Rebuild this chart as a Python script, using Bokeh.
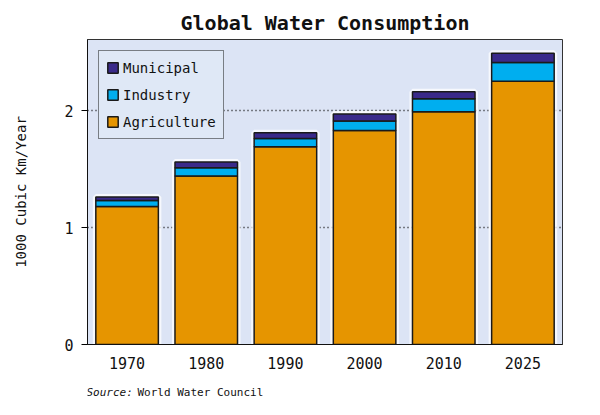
from bokeh.plotting import figure
from bokeh.layouts import column
from bokeh.models import FactorRange, Range1d, Legend, LegendItem, ColumnDataSource
from bokeh.embed import file_html
from bokeh.resources import INLINE
from bokeh.core.properties import value

years = ["1970", "1980", "1990", "2000", "2010", "2025"]
agriculture = [1.18, 1.44, 1.69, 1.83, 1.99, 2.25]
industry = [0.05, 0.07, 0.07, 0.08, 0.11, 0.16]
municipal = [0.03, 0.05, 0.05, 0.06, 0.06, 0.08]
y_ticks = [0, 1, 2]
source_prefix = "Source:"
source_name = "World Water Council"

totals = [a + i + m for a, i, m in zip(agriculture, industry, municipal)]
src = ColumnDataSource(dict(years=years, Agriculture=agriculture, Industry=industry,
                            Municipal=municipal, total=totals))

FONT = "DejaVu Sans Mono"
INK = "#111111"

p = figure(width=600, height=375, x_range=FactorRange(*years), y_range=Range1d(0, 2.607),
           output_backend="svg", toolbar_location=None,
           min_border_left=87, min_border_right=38, min_border_top=39, min_border_bottom=31)
p.background_fill_color = "#dce4f5"
p.border_fill_color = "white"
p.outline_line_color = "#333333"
p.outline_line_width = 1

p.title.text = "Global Water Consumption"
p.title.align = "center"
p.title.text_font = FONT
p.title.text_font_size = "20px"
p.title.text_font_style = "bold"
p.title.text_color = INK

# glow behind bars
p.vbar(x="years", top="total", width=0.79, source=src, fill_color=None,
       line_color="white", line_width=6, line_alpha=0.75)

colors = ["#E69500", "#00AEEF", "#3A2A8A"]
rs = p.vbar_stack(["Agriculture", "Industry", "Municipal"], x="years", width=0.79,
                  source=src, fill_color=colors, line_color="#1a1a1a", line_width=1.5)

legend = Legend(items=[LegendItem(label="Municipal", renderers=[rs[2]]),
                       LegendItem(label="Industry", renderers=[rs[1]]),
                       LegendItem(label="Agriculture", renderers=[rs[0]])],
                location="top_left", margin=11, padding=7, spacing=8,
                label_text_font=FONT, label_text_font_size="14px", label_height=19,
                label_text_color=INK,
                glyph_width=13, glyph_height=13, label_standoff=4,
                background_fill_color="#dfe8f6", background_fill_alpha=1,
                border_line_color=INK, border_line_width=1)
p.add_layout(legend, "center")

p.xgrid.grid_line_color = None
p.ygrid.grid_line_color = INK
p.ygrid.grid_line_dash = "1 3"
p.ygrid.grid_line_width = 1.5

p.yaxis.ticker = y_ticks
p.yaxis.major_tick_out = 6
p.yaxis.major_tick_in = 0
p.yaxis.minor_tick_line_color = None
p.yaxis.axis_label = "1000 Cubic Km/Year"
p.yaxis.axis_label_text_font = FONT
p.yaxis.axis_label_text_font_size = "14px"
p.yaxis.axis_label_text_font_style = "normal"
p.yaxis.axis_label_standoff = 32
p.yaxis.major_label_text_font = FONT
p.yaxis.major_label_text_font_size = "15px"
p.yaxis.major_label_standoff = 8

p.xaxis.major_tick_line_color = None
p.xaxis.major_label_text_font = FONT
p.xaxis.major_label_text_font_size = "15px"
p.xaxis.major_label_standoff = 6
for ax in (p.xaxis, p.yaxis):
    ax.axis_line_color = INK
    ax.major_label_text_color = INK
    ax.axis_label_text_color = INK

# footer with the source note (its frame is aligned with the main frame: x 87..562)
f = figure(width=600, height=40, x_range=Range1d(87, 562), y_range=Range1d(0, 40),
           output_backend="svg", toolbar_location=None,
           min_border_left=87, min_border_right=38, min_border_top=0, min_border_bottom=0)
f.axis.visible = False
f.grid.visible = False
f.outline_line_color = None
f.background_fill_color = "white"
f.border_fill_color = "white"
f.text(x=[86], y=[23], text=[source_prefix], text_font=value(FONT), text_font_size="11px",
       text_font_style="italic", text_baseline="middle", text_color=INK)
f.text(x=[137], y=[23], text=[source_name], text_font=value(FONT), text_font_size="11px",
       text_baseline="middle", text_color=INK)

layout = column(p, f, spacing=0)
open("out.html", "w").write(file_html(layout, INLINE))
